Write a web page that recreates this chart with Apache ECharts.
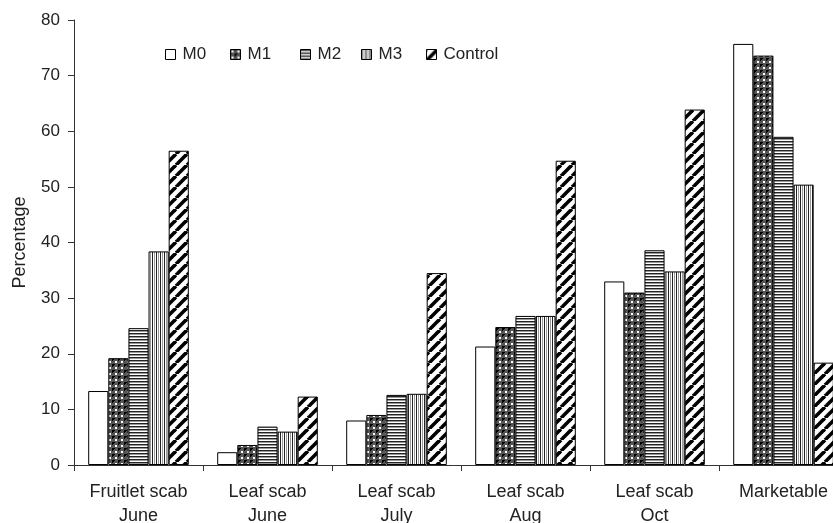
<!DOCTYPE html>
<html><head><meta charset="utf-8">
<script src="https://cdn.jsdelivr.net/npm/echarts@6/dist/echarts.min.js"></script>
<style>html,body{margin:0;padding:0;background:#fff;overflow:hidden}#c{width:833px;height:523px}</style>
</head><body><div id="c"></div>
<script>
const categories = ['Fruitlet scab\nJune','Leaf scab\nJune','Leaf scab\nJuly','Leaf scab\nAug','Leaf scab\nOct','Marketable'];
const seriesNames = ['M0','M1','M2','M3','Control'];
const M0 = [13.3, 2.3, 8.0, 21.3, 33.0, 75.7];
const M1 = [19.2, 3.6, 9.0, 24.8, 31.0, 73.6];
const M2 = [24.6, 6.9, 12.6, 26.8, 38.6, 59.0];
const M3 = [38.4, 6.0, 12.8, 26.8, 34.8, 50.4];
const Control = [56.5, 12.3, 34.5, 54.7, 63.9, 18.4];
const yTicks = [0,10,20,30,40,50,60,70,80];

const FONT = '"Liberation Sans", Arial, sans-serif';
function tile(w,h,draw){const c=document.createElement('canvas');c.width=w;c.height=h;const g=c.getContext('2d');draw(g,w,h);return c;}
const patM1 = tile(6,6,(g)=>{g.fillStyle='#555';g.fillRect(0,0,6,6);g.fillStyle='#fff';g.fillRect(1,1,2,2);g.fillStyle='#000';g.fillRect(4,4,2,2);g.fillRect(4,0,1,1);g.fillRect(0,4,1,1);});
const patM2 = tile(4,3,(g)=>{g.fillStyle='#fff';g.fillRect(0,0,4,3);g.fillStyle='#222';g.fillRect(0,0,4,1);g.fillStyle='#999';g.fillRect(0,1,4,1);});
const patM3 = tile(4,4,(g)=>{g.fillStyle='#fff';g.fillRect(0,0,4,4);g.fillStyle='#222';g.fillRect(0,0,1,4);g.fillStyle='#999';g.fillRect(2,0,1,4);});
const patC = tile(11,11,(g)=>{g.fillStyle='#fff';g.fillRect(0,0,11,11);g.strokeStyle='#000';g.lineWidth=3.6;
  for(const o of [-11,0,11]){g.beginPath();g.moveTo(o,11);g.lineTo(o+11,0);g.stroke();}});
const fills = ['#ffffff',{image:patM1,repeat:'repeat'},{image:patM2,repeat:'repeat'},{image:patM3,repeat:'repeat'},{image:patC,repeat:'repeat'}];
const dataSets = [M0,M1,M2,M3,Control];
const legendLeft = [165,230,300,361,426];

const chart = echarts.init(document.getElementById('c'),null,{renderer:'canvas'});
chart.setOption({
  animation:false,
  backgroundColor:'#fff',
  textStyle:{fontFamily:FONT},
  legend:seriesNames.map((n,i)=>({left:legendLeft[i],top:46,padding:0,itemWidth:10,itemHeight:10,itemGap:0,icon:'rect',
    textStyle:{fontSize:17,color:'#222',fontFamily:FONT,padding:[0,0,0,2]},
    data:[{name:n,itemStyle:{borderColor:'#000',borderWidth:1}}]})),
  grid:{left:74,right:-15,top:20,bottom:58,containLabel:false,outerBoundsMode:'none'},
  xAxis:{type:'category',data:categories,
    axisLine:{lineStyle:{color:'#333',width:1}},
    axisTick:{show:true,length:6,lineStyle:{color:'#333'}},
    axisLabel:{fontSize:18,color:'#222',lineHeight:24,margin:15,interval:0,fontFamily:FONT},
    splitLine:{show:false}},
  yAxis:{type:'value',min:0,max:80,interval:10,name:'Percentage',nameLocation:'middle',nameGap:45,
    nameTextStyle:{fontSize:18,color:'#222',fontFamily:FONT},
    axisLine:{show:true,lineStyle:{color:'#333',width:1}},
    axisTick:{show:true,length:6,lineStyle:{color:'#333'}},
    axisLabel:{fontSize:17,color:'#222',margin:14,fontFamily:FONT,formatter:v=>yTicks.includes(v)?String(v):''},
    splitLine:{show:false}},
  series:dataSets.map((d,i)=>({name:seriesNames[i],type:'bar',data:d,barGap:'0%',barCategoryGap:'22%',
    itemStyle:{color:fills[i],borderColor:'#000',borderWidth:1}}))
});
</script></body></html>
